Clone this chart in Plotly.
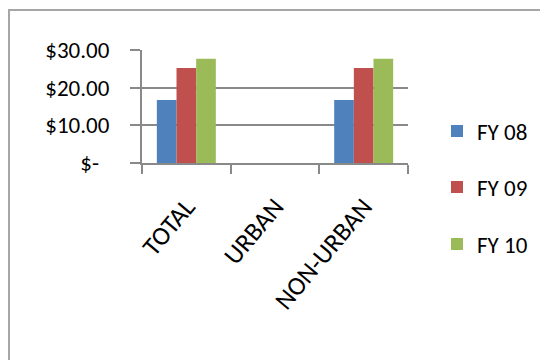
import plotly.graph_objects as go

categories = ["TOTAL", "URBAN", "NON-URBAN"]
series_names = ["FY 08", "FY 09", "FY 10"]
fy08 = [16.7, None, 16.7]
fy09 = [25.2, None, 25.2]
fy10 = [27.7, None, 27.7]
colors = ["#4F81BD", "#C0504D", "#9BBB59"]
y_ticks = [0, 10, 20, 30]
y_ticktext = ["$-\u00a0\u00a0", "$10.00", "$20.00", "$30.00"]

FONT = "Carlito, 'Liberation Sans Narrow', 'Arial Narrow', 'Liberation Sans', Arial, sans-serif"

# page has an 8px body margin; compensate
OFF = 8
W, H = 548, 360
ML, MT = 142 - OFF, 50 - OFF
MR = W - (408 - OFF)
MB = H - (163 - OFF)
PW = W - ML - MR
PH = H - MT - MB

def px_x(p):
    return (p - OFF - ML) / PW

def px_y(p):
    return (MT + PH - (p - OFF)) / PH

fig = go.Figure()
legends = ["legend", "legend2", "legend3"]
for name, vals, col, lg in zip(series_names, [fy08, fy09, fy10], colors, legends):
    fig.add_trace(go.Bar(x=categories, y=vals, name=name, marker=dict(color=col, line=dict(width=0)),
                         legend=lg, showlegend=True))

legend_y = [131, 187, 244]
leg_common = dict(font=dict(family=FONT, size=23, color="black"), xanchor="left", yanchor="middle",
                  bgcolor="rgba(0,0,0,0)", borderwidth=0)
fig.update_layout(
    width=W, height=H,
    showlegend=True,
    margin=dict(l=ML, r=MR, t=MT, b=MB, autoexpand=False),
    paper_bgcolor="white", plot_bgcolor="white",
    barmode="group", bargap=0.335, bargroupgap=0,
    font=dict(family=FONT, size=23, color="black"),
    legend=dict(x=px_x(437), y=px_y(legend_y[0]), **leg_common),
    legend2=dict(x=px_x(437), y=px_y(legend_y[1]), **leg_common),
    legend3=dict(x=px_x(437), y=px_y(legend_y[2]), **leg_common),
    xaxis=dict(
        type="category", tickson="boundaries", ticks="outside", ticklen=9, tickwidth=2,
        tickcolor="#898989", showline=True, linecolor="#898989", linewidth=2,
        showgrid=False, tickangle=-50, ticklabelstandoff=16,
        tickfont=dict(family=FONT, size=26, color="black"),
    ),
    yaxis=dict(
        range=[0, 30], tickvals=y_ticks, ticktext=y_ticktext, ticks="outside", ticklen=10,
        tickwidth=2, tickcolor="#898989", showline=True, linecolor="#898989", linewidth=2,
        showgrid=True, gridcolor="#898989", gridwidth=2, zeroline=False,
        ticklabelstandoff=16, tickfont=dict(family=FONT, size=23, color="black"),
    ),
    shapes=[dict(type="rect", xref="paper", yref="paper",
                 x0=px_x(OFF + 1), y0=px_y(390), x1=px_x(580), y1=px_y(10),
                 line=dict(color="#a6a6a6", width=2), fillcolor="rgba(0,0,0,0)", layer="below")],
)

fig.write_html("out.html")
